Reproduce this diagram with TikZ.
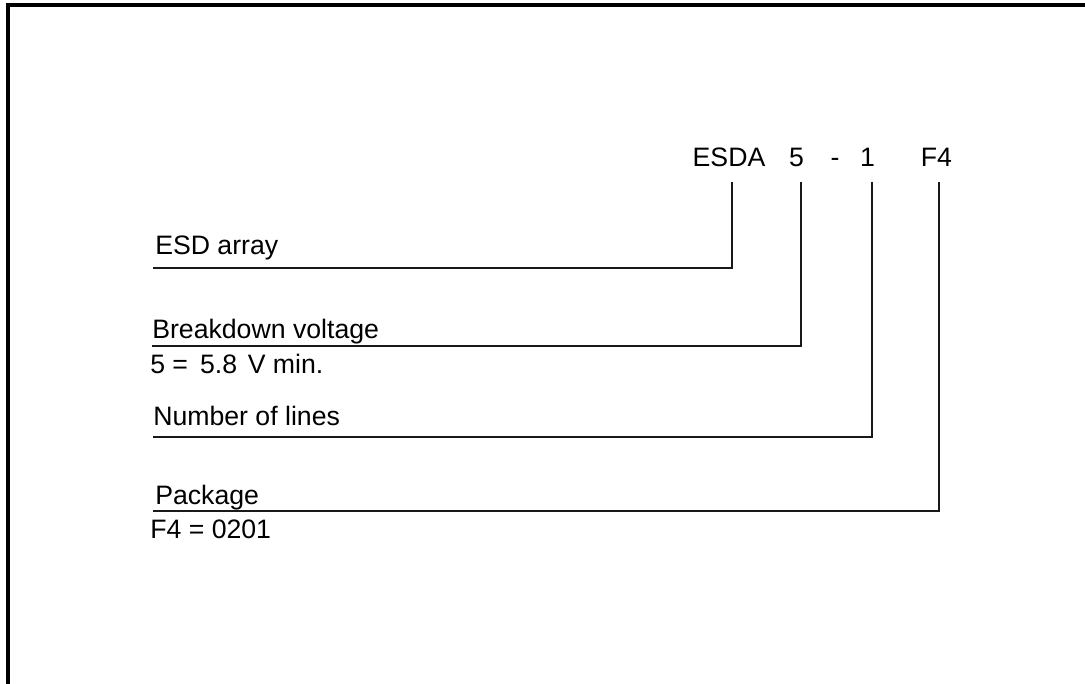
\documentclass[tikz,border=0pt]{standalone}
\usepackage{fontspec}
\setmainfont{Liberation Sans}
\usepackage{tikz}
\usetikzlibrary{positioning}
\tikzset{
    codenode/.style = {inner sep=0pt, anchor=base, font=\fontsize{20}{24}\selectfont},
    labelnode/.style = {inner sep=0pt, anchor=base west, font=\fontsize{20}{24}\selectfont},
    leg/.style = {line width=1.9pt, black!90},
    frame/.style = {line width=2.3pt, black},
}
\begin{document}
\begin{tikzpicture}[x=0.75pt,y=-0.75pt]
\useasboundingbox (0,0) rectangle (1085,684);
\draw[frame] (8,684) -- (8,5) -- (1085,5);
% part number
\node[codenode] at (729,167) (esda) {ESDA};
\node[codenode] at (796.5,167) (volt) {5};
\node[codenode] at (835,167) (dash) {-};
\node[codenode] at (867.5,167) (lines) {1};
\node[codenode] at (936.5,167) (pack) {F4};
%
\node[labelnode] at (155,255) (esdaLabel) {ESD array};
\node[labelnode] at (152,339) (voltLabel) {Breakdown voltage};
\node[labelnode] at (150,373) (voltValue) {5 =\hspace{9pt}5.8\hspace{8pt}V min.};
\node[labelnode] at (153,425) (linesLabel) {Number of lines};
\node[labelnode] at (155,504) (packLabel) {Package};
\node[labelnode] at (150,538) (packValue) {F4 = 0201};
%
\coordinate (esdaTop) at (732,182);
\coordinate (voltTop) at (801,182);
\coordinate (linesTop) at (872,182);
\coordinate (packTop) at (939,182);
\coordinate (esdaEnd) at (153,268);
\coordinate (voltEnd) at (152,346);
\coordinate (linesEnd) at (153,437);
\coordinate (packEnd) at (153,511);
%
\draw[leg] (esdaTop) |- (esdaEnd);
\draw[leg] (voltTop) |- (voltEnd);
\draw[leg] (linesTop) |- (linesEnd);
\draw[leg] (packTop) |- (packEnd);
\end{tikzpicture}
\end{document}
